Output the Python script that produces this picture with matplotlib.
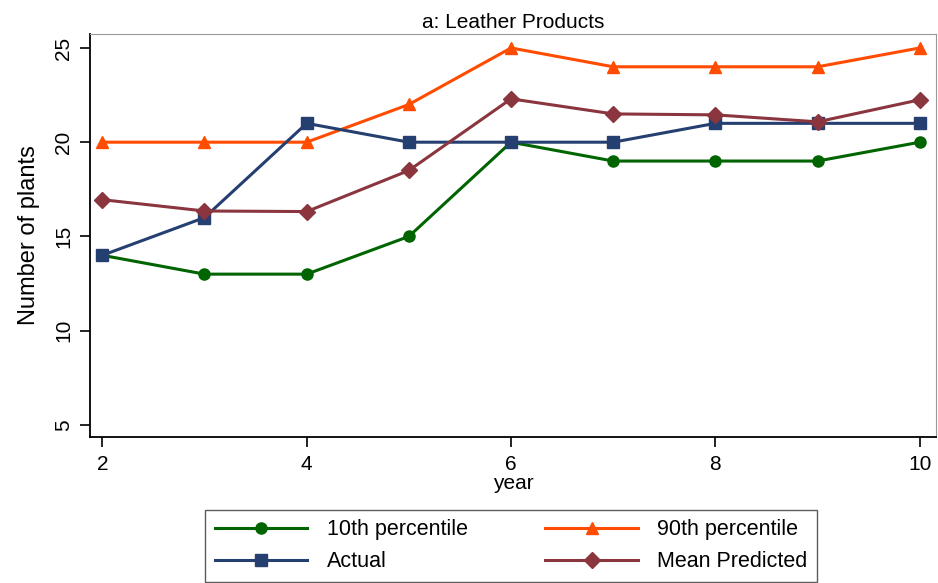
import matplotlib
matplotlib.use("Agg")
import matplotlib.pyplot as plt

plt.rcParams['font.family'] = ['Liberation Sans', 'DejaVu Sans']

years = [2, 3, 4, 5, 6, 7, 8, 9, 10]
p10 = [14, 13, 13, 15, 20, 19, 19, 19, 20]
p90 = [20, 20, 20, 22, 25, 24, 24, 24, 25]
actual = [14, 16, 21, 20, 20, 20, 21, 21, 21]
mean_pred = [16.95, 16.35, 16.32, 18.5, 22.3, 21.5, 21.45, 21.08, 22.25]

fig = plt.figure(figsize=(9.38, 5.83), dpi=100)
ax = fig.add_axes([0.096, 0.2504, 0.902, 0.6913])

ax.plot(years, p10, color='#006400', marker='o', markersize=8, lw=2.2, label='10th percentile')
ax.plot(years, p90, color='#ff4c00', marker='^', markersize=9, lw=2.2, label='90th percentile')
ax.plot(years, actual, color='#243f70', marker='s', markersize=8, lw=2.2, label='Actual')
ax.plot(years, mean_pred, color='#8b353e', marker='D', markersize=8, lw=2.2, label='Mean Predicted')

ax.set_xlim(1.88, 10.16)
ax.set_ylim(4.36, 25.74)
ax.set_xticks([2, 4, 6, 8, 10])
ax.set_yticks([5, 10, 15, 20, 25])
ax.tick_params(axis='y', labelrotation=90, labelsize=15, length=7, width=1.2, pad=5)
ax.tick_params(axis='x', labelsize=15, length=7, width=1.2, pad=6)
for lab in ax.get_yticklabels():
    lab.set_va('center')
ax.set_xlabel('year', fontsize=15, labelpad=0)
ax.set_ylabel('Number of plants', fontsize=17, labelpad=10)
ax.set_title('a: Leather Products', fontsize=15, pad=4)

for side in ['top', 'right']:
    ax.spines[side].set_color('#999999')
    ax.spines[side].set_linewidth(0.8)
for side in ['left', 'bottom']:
    ax.spines[side].set_linewidth(1.3)

# order: row-wise (10th, 90th / Actual, Mean)
handles, labels = ax.get_legend_handles_labels()
order = [0, 2, 1, 3]
leg = fig.legend([handles[i] for i in order], [labels[i] for i in order],
                 loc='lower center', bbox_to_anchor=(0.545, 0.0), ncol=2,
                 fontsize=15.5, frameon=True, fancybox=False, edgecolor='#333333',
                 handlelength=4.3, handletextpad=0.9, columnspacing=3.6,
                 borderpad=0.45, labelspacing=0.5, borderaxespad=0.05)
leg.get_frame().set_linewidth(1.0)

fig.savefig('out.png')
